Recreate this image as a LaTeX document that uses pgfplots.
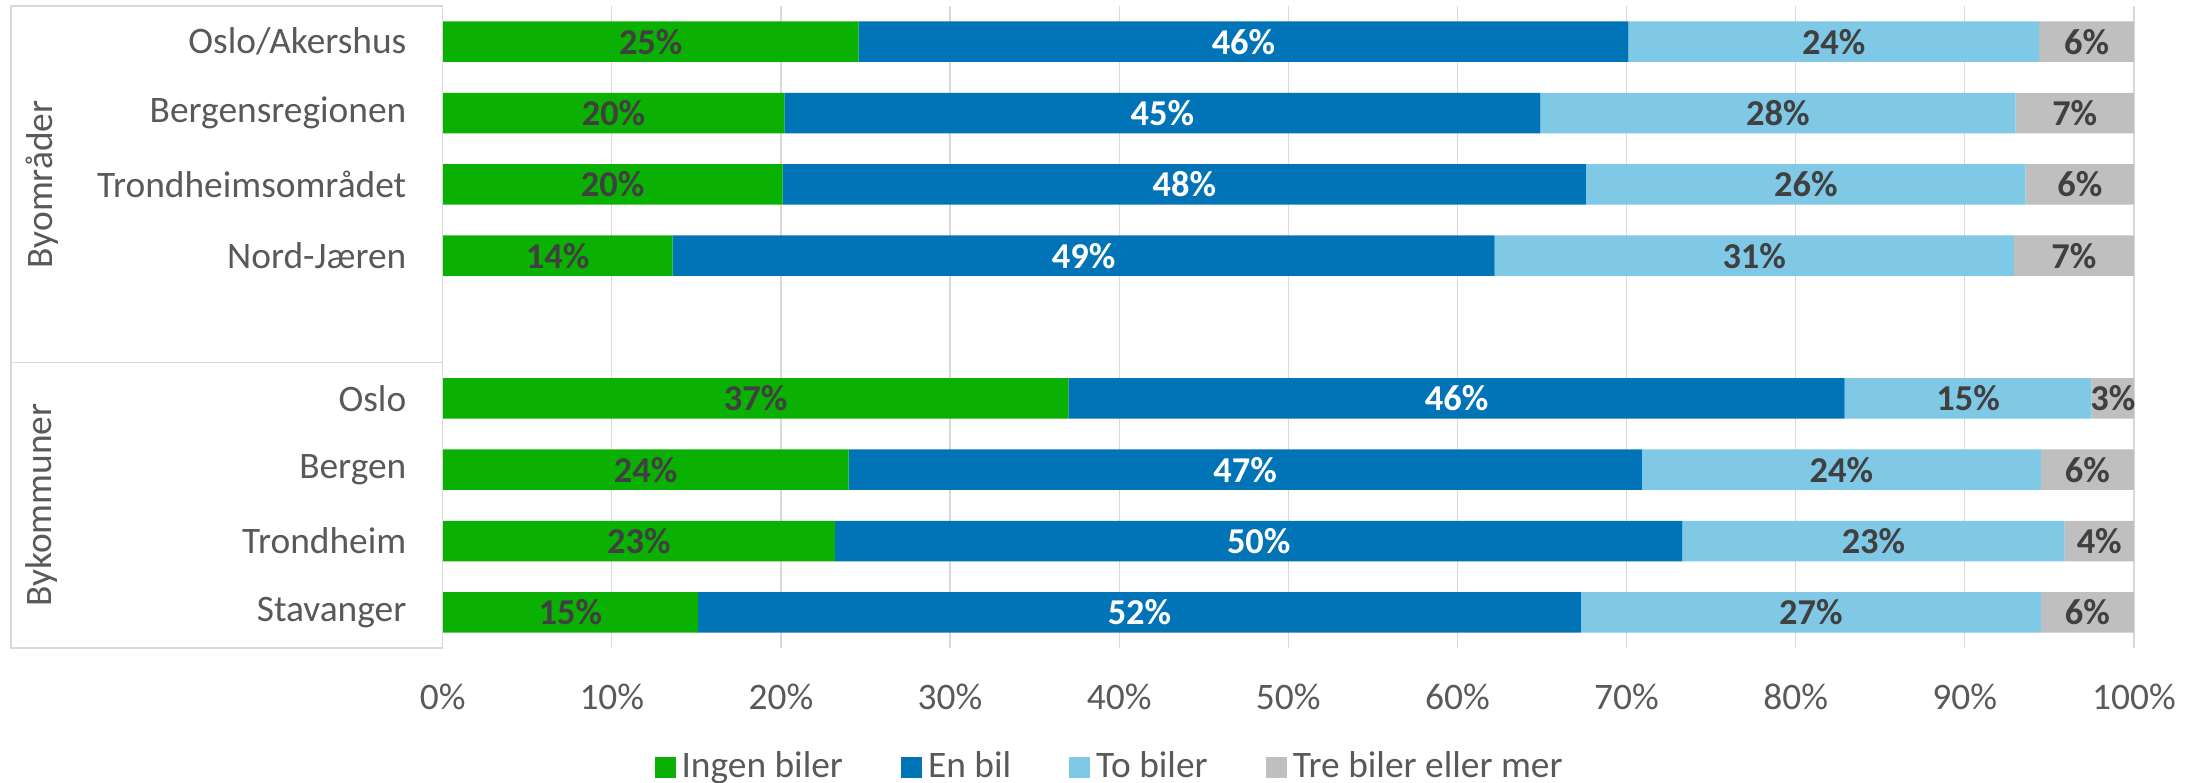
\documentclass[border=0pt]{standalone}
\usepackage{pgfplots}
\pgfplotsset{compat=1.18}
\usepackage{fontspec}
\setmainfont{Carlito}
\definecolor{cGreen}{RGB}{10,176,2}
\definecolor{cBlue}{RGB}{0,116,182}
\definecolor{cLight}{RGB}{127,200,230}
\definecolor{cGray}{RGB}{191,191,191}
\definecolor{cText}{RGB}{89,89,89}
\definecolor{cDark}{RGB}{64,64,64}
\definecolor{cGrid}{RGB}{217,217,217}
\begin{document}
\begin{tikzpicture}
\useasboundingbox (-110.675pt,-33.5pt) rectangle (439.575pt,162pt);
\pgfplotsset{
  common/.style={
    width=422.8pt, height=160.5pt, scale only axis,
    at={(0,0)}, anchor=south west,
    xmin=0, xmax=100, ymin=-0.5, ymax=8.5, y dir=reverse,
  },
}
\begin{axis}[common,
  xbar stacked, bar width=10.125pt,
  axis line style={draw=none},
  major tick length=0pt,
  xtick={0,10,...,100},
  xticklabels={0\%,10\%,20\%,30\%,40\%,50\%,60\%,70\%,80\%,90\%,100\%},
  xmajorgrids, grid style={cGrid, line width=0.33pt},
  ytick={0,1,2,3,5,6,7,8},
  yticklabels={Oslo/Akershus,Bergensregionen,Trondheimsområdet,{Nord-Jæren\ },{Oslo\ },{Bergen\ },{Trondheim\ },Stavanger},
  ticklabel style={font=\fontsize{9.35pt}{11pt}\selectfont, text=cText},
  yticklabel style={anchor=east, inner sep=0pt, xshift=-8.9pt},
  xticklabel style={anchor=north, inner sep=0pt, yshift=-8.75pt},
  legend columns=4,
  legend style={at={(0.3955,-0.1865)}, anchor=center, draw=none, fill=none,
    font=\fontsize{9.35pt}{11pt}\selectfont, text=cText,
    /tikz/every even column/.append style={column sep=13pt},
    nodes={inner ysep=0pt, inner xsep=1.5pt}},
  legend image code/.code={\fill[#1] (0pt,-2.625pt) rectangle (5.25pt,2.625pt);},
]
\addplot[fill=cGreen, draw=none] coordinates {(24.6,0) (20.2,1) (20.1,2) (13.6,3) (37.0,5) (24.0,6) (23.2,7) (15.1,8)};
\addplot[fill=cBlue, draw=none] coordinates {(45.5,0) (44.7,1) (47.5,2) (48.6,3) (45.9,5) (46.9,6) (50.1,7) (52.2,8)};
\addplot[fill=cLight, draw=none] coordinates {(24.3,0) (28.1,1) (26.0,2) (30.7,3) (14.6,5) (23.6,6) (22.6,7) (27.2,8)};
\addplot[fill=cGray, draw=none] coordinates {(5.6,0) (7.0,1) (6.4,2) (7.1,3) (2.5,5) (5.5,6) (4.1,7) (5.5,8)};
\legend{Ingen biler, En bil, To biler, Tre biler eller mer}
\end{axis}
\begin{axis}[common, hide axis,
  nodes near coords, point meta=explicit symbolic,
  nodes near coords align=center,
  every node near coord/.append style={anchor=center, font=\bfseries\fontsize{9.1pt}{11pt}\selectfont, inner sep=0pt},
]
\addplot[draw=none, mark=none, only marks, nodes near coords style={text=cDark}] coordinates {
 (12.3,0) [25\%] (10.1,1) [20\%] (10.05,2) [20\%] (6.8,3) [14\%]
 (18.5,5) [37\%] (12.0,6) [24\%] (11.6,7) [23\%] (7.55,8) [15\%]};
\addplot[draw=none, mark=none, only marks, nodes near coords style={text=white}] coordinates {
 (47.35,0) [46\%] (42.55,1) [45\%] (43.85,2) [48\%] (37.9,3) [49\%]
 (59.95,5) [46\%] (47.45,6) [47\%] (48.25,7) [50\%] (41.2,8) [52\%]};
\addplot[draw=none, mark=none, only marks, nodes near coords style={text=cDark}] coordinates {
 (82.25,0) [24\%] (78.95,1) [28\%] (80.6,2) [26\%] (77.55,3) [31\%]
 (90.2,5) [15\%] (82.7,6) [24\%] (84.6,7) [23\%] (80.9,8) [27\%]};
\addplot[draw=none, mark=none, only marks, nodes near coords style={text=cDark}] coordinates {
 (97.2,0) [6\%] (96.5,1) [7\%] (96.8,2) [6\%] (96.45,3) [7\%]
 (98.75,5) [3\%] (97.25,6) [6\%] (97.95,7) [4\%] (97.25,8) [6\%]};
\end{axis}
\draw[cGrid, line width=0.33pt] (-107.9pt,0) rectangle (0,160.5pt);
\draw[cGrid, line width=0.33pt] (-107.9pt,71.33pt) -- (0,71.33pt);
\node[rotate=90, text=cText, font=\fontsize{9.35pt}{11pt}\selectfont, inner sep=0pt] at (-100.2pt,115.9pt) {Byområder};
\node[rotate=90, text=cText, font=\fontsize{9.35pt}{11pt}\selectfont, inner sep=0pt] at (-100.2pt,35.75pt) {Bykommuner};
\end{tikzpicture}
\end{document}
